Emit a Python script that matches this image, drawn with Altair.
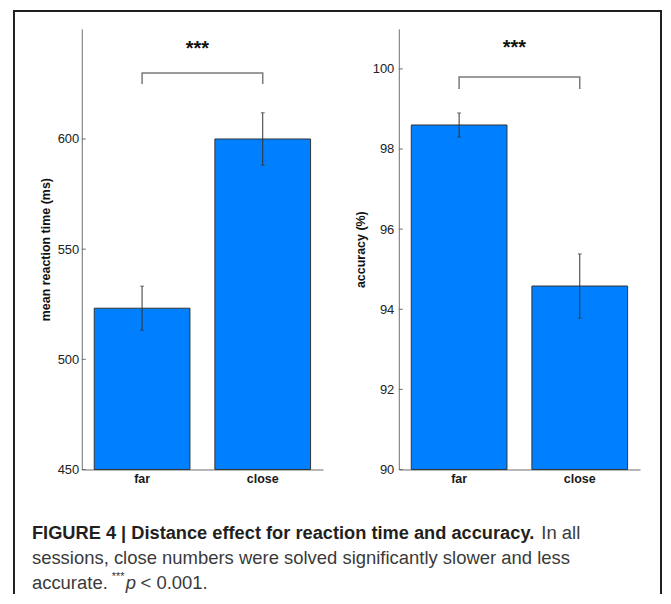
import altair as alt
import pandas as pd

# ---- data ----
categories = ["far", "close"]
rt_mean = [523.2, 600.0]
rt_err = [10.0, 11.9]
acc_mean = [98.6, 94.58]
acc_err = [0.3, 0.8]

rt_ticks = [450, 500, 550, 600]
acc_ticks = [90, 92, 94, 96, 98, 100]
rt_domain = [450, 650]
acc_domain = [90, 101]

rt_bracket = [625, 630]      # foot, top
acc_bracket = [99.5, 99.8]
rt_star = 638.2
acc_star = 100.38

rt_title = "mean reaction time (ms)"
acc_title = "accuracy (%)"

caption_bold = "FIGURE 4 | Distance effect for reaction time and accuracy."
caption_rest = "In all"
caption_line2 = "sessions, close numbers were solved significantly slower and less"
caption_line3 = "accurate."
caption_stars = "***"
caption_p = "p"
caption_tail = "< 0.001."

# ---- style ----
W, H = 242, 442
BAR = "#0080ff"
AX = "#6e6e6e"
FONT = "Liberation Sans"
FRAME = "#231f20"


def panel(means, errs, domain, ticks, title, bracket, star_y, label_pad, with_caption):
    df = pd.DataFrame({
        "cond": categories,
        "mean": means,
        "lo": [m - e for m, e in zip(means, errs)],
        "hi": [m + e for m, e in zip(means, errs)],
    })
    yscale = alt.Scale(domain=domain, nice=False, zero=False)
    yaxis = alt.Axis(values=ticks, title=title, ticks=False, grid=False,
                     labelPadding=label_pad, titlePadding=5, domainColor=AX,
                     labelFont=FONT, labelFontSize=13, labelColor="#222222",
                     titleFont=FONT, titleFontSize=12.5, titleFontWeight="bold",
                     titleColor="#111111")
    xscale = alt.Scale(paddingInner=0.2066, paddingOuter=0.1033)
    x_axis = alt.Axis(title=None, labelAngle=0, labelFont=FONT, labelFontWeight="bold",
                      labelFontSize=12.5, labelPadding=3, ticks=False, domainColor=AX,
                      labelColor="#1a1a1a", grid=False)
    xenc = alt.X("cond:N", sort=categories, scale=xscale, axis=x_axis)

    def Y(field):
        return alt.Y(field, scale=yscale, axis=yaxis)

    bars = alt.Chart(df).mark_bar(color=BAR, stroke="#333333", strokeWidth=1).encode(
        x=xenc, y=Y("mean:Q"), y2=alt.datum(domain[0]))
    tickdf = pd.DataFrame({"t": ticks})
    inticks = alt.Chart(tickdf).mark_rule(color=AX, strokeWidth=1).encode(
        y=Y("t:Q"), x=alt.value(0), x2=alt.value(4))
    err = alt.Chart(df).mark_rule(color="#333333", strokeWidth=1).encode(
        x=xenc, y=Y("lo:Q"), y2="hi:Q")
    cap_lo = alt.Chart(df).mark_tick(color="#333333", size=4, thickness=1).encode(
        x=xenc, y=Y("lo:Q"))
    cap_hi = alt.Chart(df).mark_tick(color="#333333", size=4, thickness=1).encode(
        x=xenc, y=Y("hi:Q"))

    bdf = pd.DataFrame({
        "cond": [categories[0], categories[0], categories[1], categories[1]],
        "v": [bracket[0], bracket[1], bracket[1], bracket[0]],
        "o": [0, 1, 2, 3],
    })
    brk = alt.Chart(bdf).mark_line(color="#7a7a7a", strokeWidth=1.5).encode(
        x=xenc, y=Y("v:Q"), order="o:Q")
    star = alt.Chart(pd.DataFrame({"s": [star_y]})).mark_text(
        text="***", font=FONT, fontSize=20, fontWeight="bold", color="#111111",
        align="center", baseline="alphabetic").encode(
        x=alt.value(116), y=Y("s:Q"))

    layers = [bars, inticks, err, cap_lo, cap_hi, brk, star]

    if with_caption:
        one = pd.DataFrame({"a": [0]})
        fr_left = alt.Chart(one).mark_rule(color=FRAME, strokeWidth=2).encode(
            x=alt.value(-68), y=alt.value(-19), y2=alt.value(567))
        fr_top = alt.Chart(one).mark_rule(color=FRAME, strokeWidth=2).encode(
            x=alt.value(-69), x2=alt.value(582), y=alt.value(-18))
        fr_right = alt.Chart(one).mark_rule(color=FRAME, strokeWidth=2).encode(
            x=alt.value(581), y=alt.value(-19), y2=alt.value(567))

        def txt(t, x, y, size=18.5, weight="normal", style="normal", color="#3a3a3a"):
            return alt.Chart(one).mark_text(
                text=t, font=FONT, fontSize=size, fontWeight=weight, fontStyle=style,
                color=color, align="left", baseline="alphabetic").encode(
                x=alt.value(x), y=alt.value(y))

        layers += [
            fr_left, fr_top, fr_right,
            txt(caption_bold, -50, 512, size=18.3, weight="bold", color="#231f20"),
            txt(caption_rest, 461, 512),
            txt(caption_line2, -50, 537),
            txt(caption_line3, -50, 562),
            txt(caption_stars, 30, 553, size=11),
            txt(caption_p, 44, 562, style="italic"),
            txt(caption_tail, 59, 562),
        ]

    return alt.layer(*layers).properties(width=W, height=H)


left = panel(rt_mean, rt_err, rt_domain, rt_ticks, rt_title, rt_bracket, rt_star, 3, True)
right = panel(acc_mean, acc_err, acc_domain, acc_ticks, acc_title, acc_bracket, acc_star, 5, False)

chart = alt.hconcat(left, right, spacing=76, bounds="flush").properties(
    padding={"left": 4, "top": 0, "right": 0, "bottom": 0},
    background="white",
).configure_view(strokeWidth=0)

chart.save("out.html", embed_options={"renderer": "svg", "actions": False})
